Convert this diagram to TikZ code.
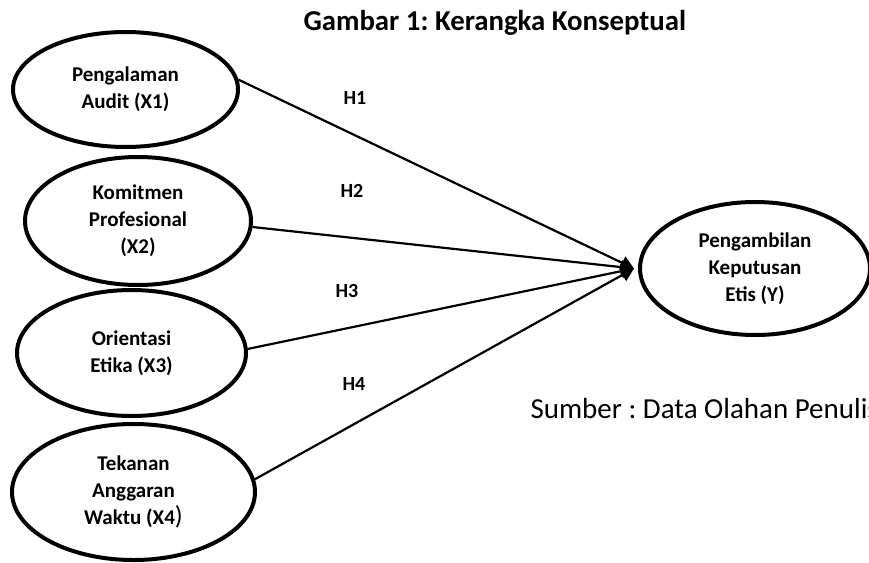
\documentclass[tikz,border=0pt]{standalone}
\usepackage{fontspec}
\setmainfont{Carlito}
\usetikzlibrary{shapes.geometric,arrows.meta}
\frenchspacing
\begin{document}
\begin{tikzpicture}[x=1pt, y=-1pt,
    var/.style={ellipse, draw, line width=4pt, inner sep=0pt, align=center, font=\bfseries\fontsize{21}{27}\selectfont},
    arr/.style={-{Triangle[length=13pt,width=14pt]}, line width=2.2pt},
    hyp/.style={font=\bfseries\fontsize{20}{24}\selectfont},
]
\useasboundingbox (0,0) rectangle (869,562);
\node[anchor=base west, font=\bfseries\fontsize{28.8}{34}\selectfont] (title) at (300,30) {Gambar 1: Kerangka Konseptual};
% variabel independen
\node[var, minimum width=225pt, minimum height=115pt] (x1) at (125.5,89.5) {Pengalaman\\Audit (X1)};
\node[var, minimum width=226pt, minimum height=128pt] (x2) at (138,221) {Komitmen\\Profesional\\(X2)};
\node[var, minimum width=229pt, minimum height=126pt] (x3) at (131.5,353) {Orientasi\\Etika (X3)};
\node[var, minimum width=243pt, minimum height=136pt] (x4) at (133.5,492) {Tekanan\\Anggaran\\Waktu (X4{\mdseries\fontsize{26}{27}\selectfont )}};
% variabel dependen
\node[var, minimum width=230pt, minimum height=133pt] (y) at (755,268.5) {Pengambilan\\Keputusan\\Etis (Y)};
\coordinate (tip) at ([xshift=-4pt]y.west);
\draw[arr] (x1.5) -- (tip);
\draw[arr] (x2.-3) -- (tip);
\draw[arr] (x3.2) -- (tip);
\draw[arr] (x4.6) -- (tip);
\node[hyp] (h1) at (355,98) {H1};
\node[hyp] (h2) at (352,191) {H2};
\node[hyp] (h3) at (347,291) {H3};
\node[hyp] (h4) at (354,384) {H4};
\node[anchor=base west, font=\fontsize{29}{35}\selectfont] (src) at (527,418) {Sumber : Data Olahan Penulis};
\end{tikzpicture}
\end{document}
